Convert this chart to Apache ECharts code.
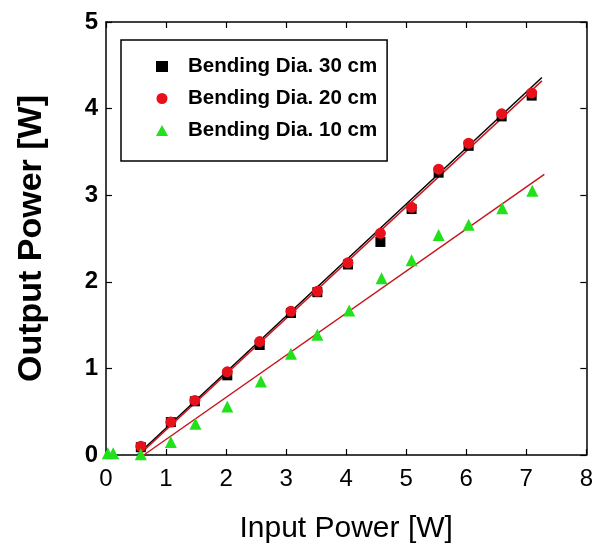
<!DOCTYPE html>
<html><head><meta charset="utf-8">
<script src="https://cdn.jsdelivr.net/npm/echarts@6/dist/echarts.min.js"></script>
<style>html,body{margin:0;padding:0;background:#fff}#c{width:596px;height:551px}</style>
</head><body><div id="c"></div>
<script>
var seriesNames = ['Bending Dia. 30 cm', 'Bending Dia. 20 cm', 'Bending Dia. 10 cm'];
var inputPower = [0.58, 1.08, 1.48, 2.02, 2.56, 3.08, 3.52, 4.03, 4.57, 5.09, 5.54, 6.04, 6.59, 7.09];
var out30 = [0.09, 0.38, 0.62, 0.92, 1.27, 1.64, 1.88, 2.20, 2.46, 2.84, 3.26, 3.57, 3.91, 4.15];
var out20 = [0.10, 0.38, 0.63, 0.96, 1.31, 1.66, 1.89, 2.22, 2.56, 2.86, 3.30, 3.60, 3.94, 4.18];
var input10 = [0.03, 0.12, 0.58, 1.08, 1.49, 2.02, 2.58, 3.08, 3.52, 4.05, 4.59, 5.09, 5.54, 6.04, 6.60, 7.10];
var out10 = [0.02, 0.02, 0.01, 0.15, 0.36, 0.56, 0.85, 1.17, 1.39, 1.67, 2.04, 2.25, 2.54, 2.66, 2.85, 3.05];
var fit30 = [[0.52, 0], [7.26, 4.36]];
var fit20 = [[0.55, 0], [7.26, 4.32]];
var fit10 = [[0.63, 0], [7.30, 3.24]];
var xTicks = [0, 1, 2, 3, 4, 5, 6, 7, 8];
var yTicks = [0, 1, 2, 3, 4, 5];

function pairs(xs, ys) { return xs.map(function (x, i) { return [x, ys[i]]; }); }

var chart = echarts.init(document.getElementById('c'), null, { renderer: 'canvas' });
var font = 'Liberation Sans, Arial, sans-serif';
var axisCommon = {
  axisLine: { show: true, onZero: false, lineStyle: { color: '#000', width: 1.5 } },
  axisTick: { show: true, inside: true, length: 6, lineStyle: { color: '#000', width: 1.2 } },
  splitLine: { show: false }
};
chart.setOption({
  animation: false,
  backgroundColor: '#fff',
  grid: { left: 106, right: 8, top: 22, bottom: 96, containLabel: false },
  legend: {
    data: seriesNames,
    orient: 'vertical',
    left: 121, top: 40,
    padding: [16, 10, 20, 35],
    itemGap: 11,
    itemWidth: 12, itemHeight: 11,
    borderColor: '#000', borderWidth: 1.5,
    textStyle: { fontFamily: font, fontWeight: 'bold', fontSize: 20.5, color: '#000', padding: [0, 0, 0, 15] }
  },
  xAxis: [
    Object.assign({}, axisCommon, {
      type: 'value', min: xTicks[0], max: xTicks[xTicks.length - 1], interval: 1,
      name: 'Input Power [W]', nameLocation: 'middle', nameGap: 59,
      nameTextStyle: { fontFamily: font, fontSize: 30, color: '#000' },
      axisLabel: { fontFamily: font, fontSize: 24, color: '#000', margin: 12 }
    }),
    Object.assign({}, axisCommon, {
      type: 'value', position: 'top', min: xTicks[0], max: xTicks[xTicks.length - 1], interval: 1,
      axisLabel: { show: false }
    })
  ],
  yAxis: [
    Object.assign({}, axisCommon, {
      type: 'value', min: yTicks[0], max: yTicks[yTicks.length - 1], interval: 1,
      name: 'Output Power [W]', nameLocation: 'middle', nameGap: 57, nameRotate: 90,
      nameTextStyle: { fontFamily: font, fontSize: 34, fontWeight: 'bold', color: '#000' },
      axisLabel: { fontFamily: font, fontSize: 24, fontWeight: 'bold', color: '#000', margin: 8 }
    }),
    Object.assign({}, axisCommon, {
      type: 'value', position: 'right', min: yTicks[0], max: yTicks[yTicks.length - 1], interval: 1,
      axisLabel: { show: false }
    })
  ],
  series: [
    { type: 'line', data: fit30, symbol: 'none', lineStyle: { color: '#000', width: 1.5 }, silent: true, z: 1 },
    { type: 'line', data: fit20, symbol: 'none', lineStyle: { color: '#c8161e', width: 1.5 }, silent: true, z: 1 },
    { type: 'line', data: fit10, symbol: 'none', lineStyle: { color: '#c8161e', width: 1.5 }, silent: true, z: 1 },
    { name: seriesNames[0], type: 'scatter', data: pairs(inputPower, out30), symbol: 'rect', symbolSize: 10,
      itemStyle: { color: '#000', opacity: 1 }, z: 3 },
    { name: seriesNames[1], type: 'scatter', data: pairs(inputPower, out20), symbol: 'circle', symbolSize: 11,
      itemStyle: { color: '#e8101a', opacity: 1 }, z: 4 },
    { name: seriesNames[2], type: 'scatter', data: pairs(input10, out10), symbol: 'triangle', symbolSize: 12,
      itemStyle: { color: '#22e01c', opacity: 1 }, z: 5 }
  ]
});
</script></body></html>
